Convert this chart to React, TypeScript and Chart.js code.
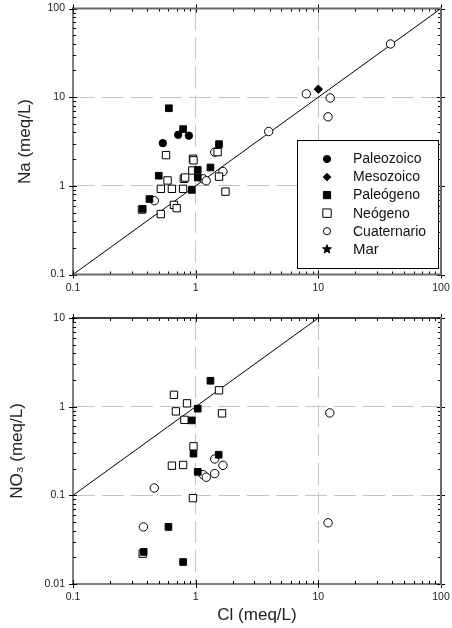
import React, { useEffect, useRef } from 'react';
import { Chart, registerables } from 'chart.js';

Chart.register(...registerables);

type Pt = { x: number; y: number };

const FONT = "'Liberation Sans', Arial, Helvetica, sans-serif";

// ---- axis ticks ----
const clTicks = [0.1, 1, 10, 100];
const naTicks = [0.1, 1, 10, 100];
const no3Ticks = [0.01, 0.1, 1, 10];

// ---- series ----
const seriesNames = ['Paleozoico', 'Mesozoico', 'Paleógeno', 'Neógeno', 'Cuaternario', 'Mar'];

// Na vs Cl (meq/L)
const naPaleozoico: Pt[] = [
  { x: 0.72, y: 3.76 }, { x: 0.88, y: 3.68 }, { x: 0.54, y: 3.03 },
];
const naMesozoico: Pt[] = [{ x: 10.0, y: 12.3 }];
const naPaleogeno: Pt[] = [
  { x: 0.605, y: 7.5 }, { x: 0.79, y: 4.36 }, { x: 1.55, y: 2.95 }, { x: 1.32, y: 1.61 },
  { x: 1.04, y: 1.51 }, { x: 1.04, y: 1.24 }, { x: 0.5, y: 1.3 }, { x: 0.93, y: 0.9 },
  { x: 0.42, y: 0.71 }, { x: 0.37, y: 0.55 },
];
const naNeogeno: Pt[] = [
  { x: 0.573, y: 2.22 }, { x: 1.51, y: 2.4 }, { x: 0.95, y: 2.02 }, { x: 0.96, y: 1.94 },
  { x: 0.94, y: 1.49 }, { x: 1.55, y: 1.27 }, { x: 0.59, y: 1.15 }, { x: 0.8, y: 1.2 },
  { x: 0.82, y: 1.24 }, { x: 0.52, y: 0.925 }, { x: 0.64, y: 0.925 }, { x: 0.79, y: 0.925 },
  { x: 1.75, y: 0.86 }, { x: 0.665, y: 0.61 }, { x: 0.7, y: 0.56 }, { x: 0.52, y: 0.48 },
  { x: 0.365, y: 0.54 },
];
const naCuaternario: Pt[] = [
  { x: 38.8, y: 39.8 }, { x: 7.98, y: 10.9 }, { x: 12.5, y: 9.8 }, { x: 12.0, y: 6.0 },
  { x: 3.94, y: 4.1 }, { x: 1.43, y: 2.4 }, { x: 1.67, y: 1.45 }, { x: 1.15, y: 1.2 },
  { x: 1.22, y: 1.14 }, { x: 0.46, y: 0.68 },
];
const naMar: Pt[] = [];

// NO3 vs Cl (meq/L)
const no3Paleozoico: Pt[] = [];
const no3Mesozoico: Pt[] = [];
const no3Paleogeno: Pt[] = [
  { x: 1.32, y: 1.96 }, { x: 1.04, y: 0.95 }, { x: 0.93, y: 0.7 }, { x: 0.96, y: 0.295 },
  { x: 1.54, y: 0.287 }, { x: 1.04, y: 0.184 }, { x: 0.6, y: 0.044 }, { x: 0.377, y: 0.023 },
  { x: 0.79, y: 0.0177 },
];
const no3Neogeno: Pt[] = [
  { x: 1.55, y: 1.53 }, { x: 0.665, y: 1.36 }, { x: 0.85, y: 1.09 }, { x: 0.69, y: 0.885 },
  { x: 1.64, y: 0.84 }, { x: 0.81, y: 0.71 }, { x: 0.96, y: 0.357 }, { x: 0.64, y: 0.216 },
  { x: 0.79, y: 0.22 }, { x: 0.95, y: 0.093 }, { x: 0.37, y: 0.022 },
];
const no3Cuaternario: Pt[] = [
  { x: 1.43, y: 0.257 }, { x: 1.67, y: 0.218 }, { x: 1.15, y: 0.171 }, { x: 1.22, y: 0.16 },
  { x: 1.43, y: 0.176 }, { x: 0.46, y: 0.121 }, { x: 0.375, y: 0.044 }, { x: 12.4, y: 0.85 },
  { x: 12.0, y: 0.049 },
];
const no3Mar: Pt[] = [];

// 1:1 reference lines
const naOneToOne: Pt[] = [{ x: 0.1, y: 0.1 }, { x: 100, y: 100 }];
const no3OneToOne: Pt[] = [{ x: 0.1, y: 0.1 }, { x: 10, y: 10 }];

// ---- marker styles ----
type Sty = { kind: string; r: number; fill: string; order: number; lr: number };
const styles: Record<string, Sty> = {
  Paleozoico: { kind: 'circle', r: 3.7, fill: '#000', order: 3, lr: 3.6 },
  Mesozoico: { kind: 'rectRot', r: 4.2, fill: '#000', order: 0, lr: 3.8 },
  'Paleógeno': { kind: 'rect', r: 4.7, fill: '#000', order: 1, lr: 3.6 },
  'Neógeno': { kind: 'rect', r: 5.2, fill: '#fff', order: 2, lr: 4.2 },
  Cuaternario: { kind: 'circle', r: 4.2, fill: '#fff', order: 4, lr: 3.6 },
  Mar: { kind: 'star', r: 4.5, fill: '#000', order: 5, lr: 4.6 },
};

function datasetsFor(series: Pt[][], line: Pt[]) {
  const ds: any[] = series.map((data, i) => {
    const s = styles[seriesNames[i]];
    return {
      label: seriesNames[i],
      data,
      order: s.order,
      showLine: false,
      pointStyle: s.kind === 'star' ? 'star' : s.kind,
      pointRadius: s.r,
      pointBackgroundColor: s.fill,
      pointBorderColor: '#000',
      pointBorderWidth: 1,
    };
  });
  ds.push({
    label: '1:1',
    data: line,
    order: 10,
    showLine: true,
    borderColor: '#000',
    borderWidth: 1,
    pointRadius: 0,
    fill: false,
  });
  return ds;
}

function logMarks(min: number, max: number) {
  const major: number[] = [];
  const minor: number[] = [];
  const e0 = Math.round(Math.log10(min));
  const e1 = Math.round(Math.log10(max));
  for (let e = e0; e <= e1; e++) {
    const d = Math.pow(10, e);
    major.push(d);
    if (e < e1) for (let k = 2; k < 10; k++) minor.push(k * d);
  }
  return { major, minor };
}

function drawMarker(ctx: CanvasRenderingContext2D, kind: string, x: number, y: number, r: number, fill: string) {
  ctx.save();
  ctx.beginPath();
  if (kind === 'circle') {
    ctx.arc(x, y, r, 0, Math.PI * 2);
  } else if (kind === 'rect') {
    ctx.rect(x - r, y - r, 2 * r, 2 * r);
  } else if (kind === 'rectRot') {
    ctx.moveTo(x - r, y); ctx.lineTo(x, y - r); ctx.lineTo(x + r, y); ctx.lineTo(x, y + r); ctx.closePath();
  } else if (kind === 'star') {
    for (let i = 0; i < 10; i++) {
      const a = -Math.PI / 2 + (i * Math.PI) / 5;
      const rr = i % 2 === 0 ? r : r * 0.42;
      const px = x + rr * Math.cos(a), py = y + rr * Math.sin(a);
      if (i === 0) ctx.moveTo(px, py); else ctx.lineTo(px, py);
    }
    ctx.closePath();
  }
  ctx.fillStyle = fill;
  ctx.fill();
  ctx.strokeStyle = '#000';
  ctx.lineWidth = 1;
  ctx.stroke();
  ctx.restore();
}

type Edge = { color: string; width: number };

const framePlugin = {
  id: 'logFrame',
  afterDraw(chart: any, _a: any, opts: any) {
    const { ctx, chartArea: a } = chart;
    const xs = chart.scales.x, ys = chart.scales.y;
    const L = a.left, R = a.right, T = a.top, B = a.bottom;
    ctx.save();
    ctx.strokeStyle = '#000';
    ctx.lineWidth = 1;
    const mx = logMarks(xs.min, xs.max);
    const my = logMarks(ys.min, ys.max);
    const minorLen = 3, majIn = 4, majOut = 4;
    ctx.beginPath();
    for (const v of mx.minor) {
      const p = Math.round(xs.getPixelForValue(v)) + 0.5;
      ctx.moveTo(p, B); ctx.lineTo(p, B - minorLen);
      ctx.moveTo(p, T); ctx.lineTo(p, T + minorLen);
    }
    for (const v of mx.major) {
      const p = Math.round(xs.getPixelForValue(v)) + 0.5;
      ctx.moveTo(p, B + majOut); ctx.lineTo(p, B - majIn);
      ctx.moveTo(p, T - majOut); ctx.lineTo(p, T + majIn);
    }
    for (const v of my.minor) {
      const p = Math.round(ys.getPixelForValue(v)) + 0.5;
      ctx.moveTo(L, p); ctx.lineTo(L + minorLen, p);
      ctx.moveTo(R, p); ctx.lineTo(R - minorLen, p);
    }
    for (const v of my.major) {
      const p = Math.round(ys.getPixelForValue(v)) + 0.5;
      ctx.moveTo(L - majOut, p); ctx.lineTo(L + majIn, p);
      ctx.moveTo(R + majOut, p); ctx.lineTo(R - majIn, p);
    }
    ctx.stroke();
    const e: Record<string, Edge> = opts.edges;
    const line = (x1: number, y1: number, x2: number, y2: number, s: Edge) => {
      ctx.beginPath();
      ctx.strokeStyle = s.color;
      ctx.lineWidth = s.width;
      ctx.moveTo(x1, y1); ctx.lineTo(x2, y2);
      ctx.stroke();
    };
    line(L - 1, T, R + 1, T, e.top);
    line(L - 1, B, R + 1, B, e.bottom);
    line(L, T - 1, L, B + 1, e.left);
    line(R, T - 1, R, B + 1, e.right);
    ctx.restore();
  },
};

const insetLegendPlugin = {
  id: 'insetLegend',
  afterDraw(chart: any, _a: any, opts: any) {
    if (!opts || !opts.show) return;
    const { ctx } = chart;
    const { x, y, w, h, rowY, step, markerX, textX } = opts;
    ctx.save();
    ctx.fillStyle = '#fff';
    ctx.fillRect(x, y, w, h);
    ctx.strokeStyle = '#000';
    ctx.lineWidth = 1;
    ctx.strokeRect(x + 0.5, y + 0.5, w, h);
    seriesNames.forEach((name, i) => {
      const s = styles[name];
      const cy = rowY + i * step;
      drawMarker(ctx, s.kind, markerX, cy, s.lr, s.fill);
      ctx.fillStyle = '#111';
      ctx.textBaseline = 'middle';
      ctx.textAlign = 'left';
      ctx.font = `${name === 'Mar' ? 15 : 14}px ${FONT}`;
      ctx.fillText(name, textX, cy + 0.5);
    });
    ctx.restore();
  },
};

function makeConfig(p: {
  series: Pt[][];
  line: Pt[];
  yMin: number;
  yMax: number;
  yTicks: number[];
  yTitle: string;
  yTitlePad: number;
  xTitle: string | null;
  padTop: number;
  xAxisH: number;
  edges: Record<string, Edge>;
  legend: any;
}) {
  const tickFont = { family: FONT, size: 10.5 };
  const gridColor = (min: number, max: number) => (c: any) => {
    const v = c.tick && c.tick.value;
    return v > min * 1.001 && v < max * 0.999 ? '#c4c4c4' : 'rgba(0,0,0,0)';
  };
  return {
    type: 'scatter' as const,
    data: { datasets: datasetsFor(p.series, p.line) },
    plugins: [framePlugin, insetLegendPlugin],
    options: {
      responsive: false,
      animation: false as const,
      devicePixelRatio: 1,
      events: [] as any[],
      layout: { padding: { top: p.padTop, right: 11, left: 0, bottom: 0 } },
      plugins: {
        legend: { display: false },
        tooltip: { enabled: false },
        logFrame: { edges: p.edges },
        insetLegend: p.legend,
      },
      scales: {
        x: {
          type: 'logarithmic' as const,
          position: 'bottom' as const,
          min: 0.1,
          max: 100,
          bounds: 'data' as const,
          afterBuildTicks: (s: any) => { s.ticks = clTicks.map((v) => ({ value: v })); },
          afterFit: (s: any) => { s.height = p.xAxisH; s.paddingLeft = 0; s.paddingRight = 0; },
          ticks: {
            callback: (v: any) => String(v),
            font: tickFont,
            color: '#222',
            padding: 7,
            maxRotation: 0,
            autoSkip: false,
          },
          grid: { drawTicks: false, color: gridColor(0.1, 100), lineWidth: 1 },
          border: { display: false, dash: [22, 7] },
          title: p.xTitle
            ? { display: true, text: p.xTitle, color: '#222', font: { family: FONT, size: 17 }, padding: { top: 0, bottom: 2 } }
            : { display: false },
        },
        y: {
          type: 'logarithmic' as const,
          position: 'left' as const,
          min: p.yMin,
          max: p.yMax,
          bounds: 'data' as const,
          afterBuildTicks: (s: any) => { s.ticks = p.yTicks.map((v) => ({ value: v })); },
          afterFit: (s: any) => { s.width = 73; s.paddingTop = 0; s.paddingBottom = 0; },
          ticks: {
            callback: (v: any) => String(v),
            font: tickFont,
            color: '#222',
            padding: 8,
            autoSkip: false,
          },
          grid: { drawTicks: false, color: gridColor(p.yMin, p.yMax), lineWidth: 1 },
          border: { display: false, dash: [22, 7] },
          title: { display: true, text: p.yTitle, color: '#222', font: { family: FONT, size: 17 }, padding: { top: p.yTitlePad, bottom: 0 } },
        },
      },
    },
  };
}

function Panel({ top, height, build }: { top: number; height: number; build: () => any }) {
  const ref = useRef<HTMLCanvasElement>(null);
  useEffect(() => {
    const chart = new Chart(ref.current as HTMLCanvasElement, build());
    return () => chart.destroy();
  }, []);
  return (
    <canvas
      ref={ref}
      width={452}
      height={height}
      style={{ position: 'absolute', left: 0, top, width: 452, height, display: 'block' }}
    />
  );
}

const gray: Edge = { color: '#6a6a6a', width: 2 };
const black: Edge = { color: '#000', width: 1 };

export default function App() {
  return (
    <div style={{ position: 'absolute', left: 0, top: 0, width: 452, height: 628, background: '#fff', overflow: 'hidden' }}>
      <Panel
        top={0}
        height={300}
        build={() =>
          makeConfig({
            series: [naPaleozoico, naMesozoico, naPaleogeno, naNeogeno, naCuaternario, naMar],
            line: naOneToOne,
            yMin: 0.1,
            yMax: 100,
            yTicks: naTicks,
            yTitle: 'Na (meq/L)',
            yTitlePad: 15,
            xTitle: null,
            padTop: 8.5,
            xAxisH: 25.5,
            edges: { top: gray, bottom: gray, left: black, right: gray },
            legend: { show: true, x: 297, y: 140, w: 141, h: 128, rowY: 159, step: 18.05, markerX: 327, textX: 353 },
          })
        }
      />
      <Panel
        top={300}
        height={328}
        build={() =>
          makeConfig({
            series: [no3Paleozoico, no3Mesozoico, no3Paleogeno, no3Neogeno, no3Cuaternario, no3Mar],
            line: no3OneToOne,
            yMin: 0.01,
            yMax: 10,
            yTicks: no3Ticks,
            yTitle: 'NO₃ (meq/L)',
            yTitlePad: 7.5,
            xTitle: 'Cl (meq/L)',
            padTop: 18,
            xAxisH: 44,
            edges: { top: { color: '#000', width: 1.5 }, bottom: black, left: black, right: gray },
            legend: { show: false },
          })
        }
      />
    </div>
  );
}
